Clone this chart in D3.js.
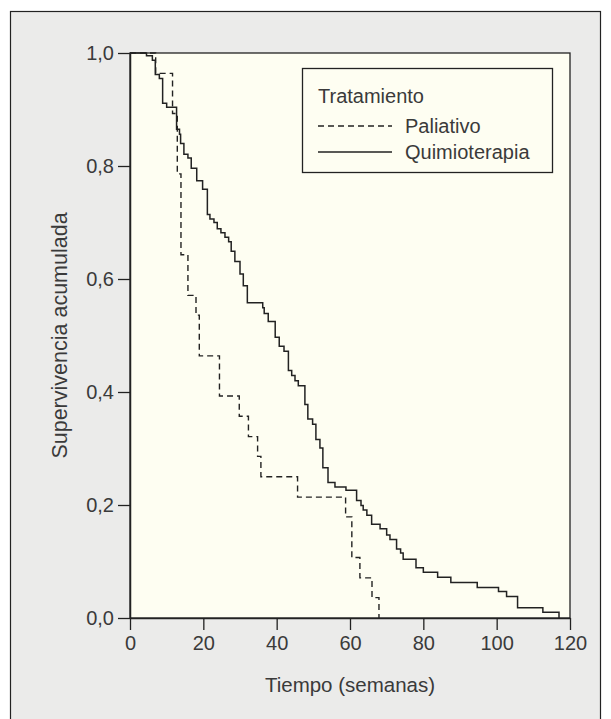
<!DOCTYPE html>
<html>
<head>
<meta charset="utf-8">
<script src="https://cdn.jsdelivr.net/npm/d3@7"></script>
<style>
  body { margin: 0; background: #fff; }
</style>
</head>
<body>
<div class="graph"></div>
<script>
// Paliativo (dashed)
const tiempoPaliativo = [0, 7.0, 11.6, 12.9, 13.9, 15.8, 18.0, 18.9, 24.4, 29.8, 32.3, 34.8, 35.7, 45.7, 58.8, 60.5, 62.7, 66.0, 67.9]
const supPaliativo   = [1, 0.964, 0.893, 0.786, 0.643, 0.571, 0.536, 0.464, 0.393, 0.357, 0.321, 0.286, 0.25, 0.214, 0.179, 0.107, 0.071, 0.036, 0]

// Quimioterapia (solid)
const tiempoQuimio = [0, 4.5, 6.1, 6.9, 8.0, 8.9, 10.0, 12.7, 13.5, 13.8, 14.7, 15.8, 16.7, 18.2, 19.8, 21.1, 21.8, 22.9, 23.8, 24.8,
  25.9, 26.9, 27.6, 28.6, 30.0, 30.9, 32.0, 36.2, 36.6, 37.7, 39.6, 40.7, 42.0, 43.2, 44.1, 45.0, 45.9, 47.7, 48.5, 49.8,
  50.7, 51.8, 52.6, 54.0, 55.9, 58.9, 61.8, 63.0, 63.6, 64.6, 65.9, 68.2, 70.0, 70.9, 72.7, 73.8, 74.5, 78.0, 80.0, 83.9,
  87.5, 94.7, 100.5, 102.7, 105.7, 112.6, 117.0]
const supQuimio = [1, 0.995, 0.987, 0.962, 0.955, 0.911, 0.904, 0.865, 0.856, 0.840, 0.821, 0.814, 0.796, 0.774, 0.759, 0.714, 0.706, 0.700, 0.689, 0.682,
  0.674, 0.666, 0.649, 0.631, 0.609, 0.588, 0.558, 0.549, 0.539, 0.525, 0.497, 0.481, 0.472, 0.438, 0.429, 0.420, 0.411, 0.378, 0.352, 0.343,
  0.316, 0.301, 0.266, 0.240, 0.232, 0.226, 0.208, 0.199, 0.191, 0.182, 0.166, 0.158, 0.147, 0.139, 0.122, 0.115, 0.104, 0.089, 0.081, 0.072,
  0.063, 0.054, 0.047, 0.038, 0.018, 0.010, 0]

const xTicks = [0, 20, 40, 60, 80, 100, 120]
const yTicks = [0, 0.2, 0.4, 0.6, 0.8, 1.0]

const width = 611, height = 719
const margin = {top: 53, right: 41, bottom: 101, left: 130}
const font = "'Liberation Sans', Arial, sans-serif"
const ink = "#222"
const textCol = "#3a3a3a"

const svg = d3.select(".graph").append("svg")
    .attr("width", width)
    .attr("height", height)
    .style("display", "block")
    .style("font-family", font)

// outer panel
svg.append("rect")
    .attr("x", 10.5).attr("y", 11.5)
    .attr("width", 590).attr("height", 730)
    .attr("fill", "#ebebea")
    .attr("stroke", "#222")
    .attr("stroke-width", 1.2)

const scaleX = d3.scaleLinear().domain([0, 120]).range([margin.left, width - margin.right])
const scaleY = d3.scaleLinear().domain([0, 1]).range([height - margin.bottom, margin.top])

// plot background
svg.append("rect")
    .attr("x", scaleX(0)).attr("y", scaleY(1))
    .attr("width", scaleX(120) - scaleX(0))
    .attr("height", scaleY(0) - scaleY(1))
    .attr("fill", "#fefef2")
    .attr("stroke", ink)
    .attr("stroke-width", 1.3)

const fmt = d => d3.format(".1f")(d).replace(".", ",")

const xAxis = g => g
    .attr("transform", `translate(0, ${scaleY(0)})`)
    .call(d3.axisBottom(scaleX).tickValues(xTicks).tickSize(12).tickSizeOuter(0).tickPadding(6))
    .call(g => g.select(".domain").attr("stroke", ink).attr("stroke-width", 1.5))
    .call(g => g.selectAll(".tick line").attr("stroke", ink).attr("stroke-width", 1.3))
    .call(g => g.selectAll("text").attr("fill", textCol).style("font-size", "20px").style("font-family", font))

const yAxis = g => g
    .attr("transform", `translate(${scaleX(0)}, 0)`)
    .call(d3.axisLeft(scaleY).tickValues(yTicks).tickFormat(fmt).tickSize(12).tickSizeOuter(0).tickPadding(4))
    .call(g => g.select(".domain").attr("stroke", ink).attr("stroke-width", 1.5))
    .call(g => g.selectAll(".tick line").attr("stroke", ink).attr("stroke-width", 1.3))
    .call(g => g.selectAll("text").attr("fill", textCol).style("font-size", "20px").style("font-family", font))

svg.append("g").call(xAxis)
svg.append("g").call(yAxis)

// curves
const line = d3.line()
    .x(d => scaleX(d.t))
    .y(d => scaleY(d.s))
    .curve(d3.curveStepAfter)

const paliativo = tiempoPaliativo.map((t, i) => ({t: t, s: supPaliativo[i]}))
const quimio = tiempoQuimio.map((t, i) => ({t: t, s: supQuimio[i]}))

svg.append("path")
    .datum(quimio)
    .attr("d", line)
    .attr("fill", "none")
    .attr("stroke", ink)
    .attr("stroke-width", 1.5)

svg.append("path")
    .datum(paliativo)
    .attr("d", line)
    .attr("fill", "none")
    .attr("stroke", ink)
    .attr("stroke-width", 1.4)
    .attr("stroke-dasharray", "6,4")

// axis titles
svg.append("text")
    .attr("x", (scaleX(0) + scaleX(120)) / 2)
    .attr("y", 692)
    .attr("text-anchor", "middle")
    .attr("fill", textCol)
    .style("font-size", "20.5px")
    .text("Tiempo (semanas)")

svg.append("text")
    .attr("transform", `translate(67, ${(scaleY(0) + scaleY(1)) / 2}) rotate(-90)`)
    .attr("text-anchor", "middle")
    .attr("fill", textCol)
    .style("font-size", "21.5px")
    .text("Supervivencia acumulada")

// legend
const legend = svg.append("g")
svg.append("rect")
    .attr("x", 302.5).attr("y", 68.5)
    .attr("width", 250).attr("height", 104)
    .attr("fill", "none")
    .attr("stroke", ink)
    .attr("stroke-width", 1.3)

legend.append("text")
    .attr("x", 318).attr("y", 103)
    .attr("fill", textCol)
    .style("font-size", "20px")
    .text("Tratamiento")

const items = [
    {label: "Paliativo", dash: "6,4", y: 126},
    {label: "Quimioterapia", dash: null, y: 152}
]

items.forEach(it => {
    legend.append("line")
        .attr("x1", 318).attr("x2", 392)
        .attr("y1", it.y).attr("y2", it.y)
        .attr("stroke", ink)
        .attr("stroke-width", 1.4)
        .attr("stroke-dasharray", it.dash)
    legend.append("text")
        .attr("x", 405).attr("y", it.y + 7)
        .attr("fill", textCol)
        .style("font-size", "20px")
        .text(it.label)
})
</script>
</body>
</html>
